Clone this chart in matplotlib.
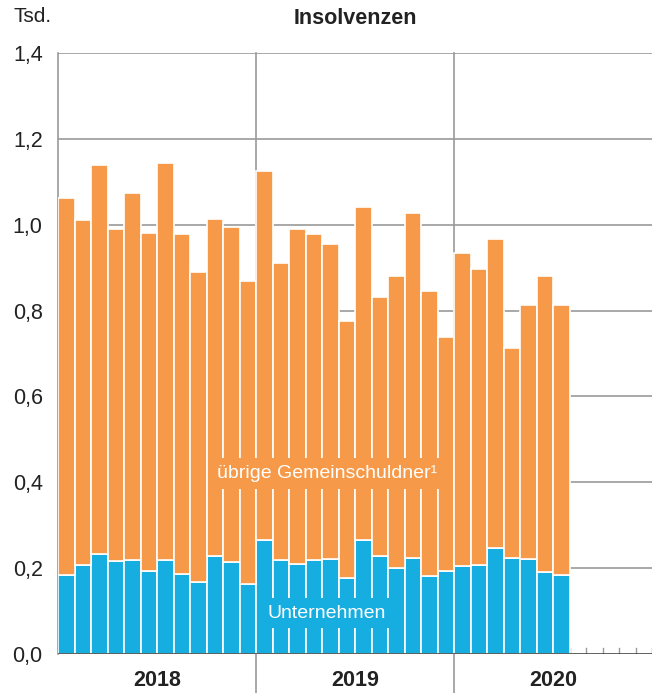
import matplotlib
matplotlib.use('Agg')
import matplotlib.pyplot as plt
import numpy as np

plt.rcParams['font.family'] = ['Liberation Sans', 'DejaVu Sans']

# Monthly insolvencies in thousands, Jan 2018 - Jul 2020
years = ['2018', '2019', '2020']
total = [1.062, 1.012, 1.140, 0.991, 1.075, 0.981, 1.143, 0.978, 0.889, 1.013, 0.995, 0.870,
         1.125, 0.910, 0.989, 0.978, 0.956, 0.776, 1.042, 0.832, 0.880, 1.027, 0.845, 0.738,
         0.933, 0.896, 0.967, 0.712, 0.814, 0.880, 0.812]
unternehmen = [0.184, 0.208, 0.234, 0.216, 0.218, 0.194, 0.218, 0.187, 0.168, 0.229, 0.214, 0.164,
               0.265, 0.218, 0.210, 0.218, 0.222, 0.177, 0.265, 0.229, 0.200, 0.224, 0.181, 0.194,
               0.204, 0.208, 0.247, 0.224, 0.222, 0.191, 0.183]
uebrige = [t - u for t, u in zip(total, unternehmen)]
yticks = [0.0, 0.2, 0.4, 0.6, 0.8, 1.0, 1.2, 1.4]

blue = '#16AEE0'
orange = '#F69A4A'
grid = '#9a9a9a'
txt = '#222222'

fig = plt.figure(figsize=(6.61, 6.93), dpi=100)
ax = fig.add_axes([58/661, 39/693, 594/661, 601/693])

x = np.arange(len(total))
ax.bar(x, unternehmen, width=1, align='edge', color=blue, edgecolor='white', linewidth=1.2, zorder=3)
ax.bar(x, uebrige, width=1, align='edge', bottom=unternehmen, color=orange, edgecolor='white',
       linewidth=1.2, zorder=3)

ax.set_xlim(0, 36)
ax.set_ylim(0, 1.4)

# horizontal grid
for yv in yticks[1:]:
    ax.axhline(yv, color=grid, lw=1.2, zorder=1)

# year separators reaching below the axis
for xv in [12, 24]:
    ax.plot([xv, xv], [-0.095, 1.4], color=grid, lw=1.2, zorder=1, clip_on=False)

# small month ticks
for xv in range(len(total), 37):
    ax.plot([xv, xv], [0, 0.014], color=grid, lw=1, zorder=1)

for s in ['top', 'right', 'bottom']:
    ax.spines[s].set_visible(False)
ax.spines['left'].set_color(grid)
ax.spines['left'].set_linewidth(1.2)
ax.axhline(0, color='#333333', lw=1.8, zorder=4)

ax.set_yticks(yticks)
ax.set_yticklabels([f'{v:.1f}'.replace('.', ',') for v in yticks], fontsize=15.5, color=txt)
ax.tick_params(axis='y', length=0, pad=11)
ax.set_xticks([])

for i, yr in enumerate(years):
    ax.text(i * 12 + 6, -0.062, yr, ha='center', va='center', fontsize=15.5,
            fontweight='bold', color=txt, clip_on=False)

ax.text(16.3, 0.421, 'übrige Gemeinschuldner¹', ha='center', va='center', fontsize=14,
        color='white', zorder=5,
        bbox=dict(boxstyle='square,pad=0.35', facecolor=orange, edgecolor='none'))
ax.text(16.3, 0.0955, 'Unternehmen', ha='center', va='center', fontsize=14,
        color='white', zorder=5,
        bbox=dict(boxstyle='square,pad=0.35', facecolor=blue, edgecolor='none'))

fig.text(13/661, 1 - 17/693, 'Tsd.', ha='left', va='center', fontsize=15, color=txt)
fig.text(355/661, 1 - 18/693, 'Insolvenzen', ha='center', va='center', fontsize=15.5,
         fontweight='bold', color=txt)

fig.savefig('out.png', dpi=100)
